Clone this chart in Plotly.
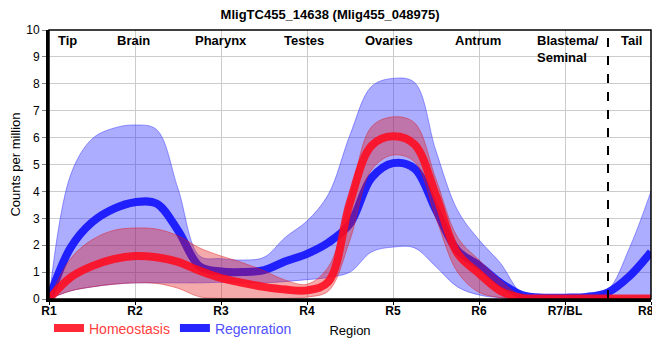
import plotly.graph_objects as go

# ---- data ----
title = "MligTC455_14638 (Mlig455_048975)"
tick_labels = ["R1", "R2", "R3", "R4", "R5", "R6", "R7/BL", "R8/T"]
region_names = ["Tip", "Brain", "Pharynx", "Testes", "Ovaries", "Antrum", "Blastema/<br>Seminal", "Tail"]
region_name_pos = [0.22, 0.98, 2.0, 2.97, 3.95, 4.99, 5.65, 6.77]

pos = [0, 0.25, 0.5, 0.75, 1, 1.25, 1.5, 1.75, 2, 2.25, 2.5, 2.75, 3, 3.25, 3.5, 3.75,
       4, 4.25, 4.5, 4.75, 5, 5.25, 5.5, 5.75, 6, 6.25, 6.5, 6.75, 7]

homeo_mean = [0, 0.8, 1.22, 1.48, 1.6, 1.55, 1.38, 1.05, 0.78, 0.6, 0.45, 0.35, 0.32, 0.65, 3.6,
              5.7, 6.05, 5.75, 3.85, 1.7, 0.95, 0.3, 0.04, 0.02, 0.02, 0.02, 0.02, 0.02, 0.02]
homeo_upper = [0, 1.5, 2.2, 2.55, 2.64, 2.6, 2.35, 1.9, 1.6, 1.35, 1.05, 0.7, 0.55, 1.2, 3.8,
               6.4, 6.77, 6.55, 4.45, 2.3, 1.45, 0.7, 0.1, 0.06, 0.06, 0.06, 0.06, 0.06, 0.06]
homeo_lower = [0, 0.3, 0.45, 0.55, 0.6, 0.58, 0.4, 0.08, 0.02, 0.0, 0.0, 0.02, 0.07, 0.3, 2.2,
               4.8, 5.35, 5.1, 3.0, 1.0, 0.25, 0.05, 0.0, 0, 0, 0, 0, 0, 0]

regen_mean = [0, 1.9, 2.85, 3.35, 3.6, 3.55, 2.55, 1.22, 1.02, 1.0, 1.07, 1.4, 1.68, 2.1, 2.8,
              4.5, 5.05, 4.85, 3.3, 1.8, 1.25, 0.6, 0.15, 0.05, 0.05, 0.08, 0.25, 0.85, 1.75]
regen_upper = [0, 4.6, 5.95, 6.35, 6.47, 6.3, 4.1, 1.6, 1.5, 1.45, 1.55, 2.3, 2.9, 3.9, 6.1,
               7.9, 8.2, 8.05, 5.5, 3.3, 2.2, 1.33, 0.2, 0.05, 0.05, 0.1, 0.35, 1.9, 4.0]
regen_lower = [0, 0.3, 0.45, 0.55, 0.6, 0.6, 0.6, 0.6, 0.62, 0.6, 0.6, 0.65, 0.72, 0.8, 1.0,
               1.75, 1.93, 1.9, 1.2, 0.45, 0.15, 0.05, 0.03, 0.03, 0.03, 0.03, 0.05, 0.08, 0.1]

divider_pos = 6.5

FONT = "Arial, Liberation Sans, sans-serif"

fig = go.Figure()


def add_series(name, mean, upper, lower, band_fill, band_line, line_color, text_color):
    fig.add_trace(go.Scatter(x=pos, y=lower, mode="lines", line=dict(color=band_line, width=1, shape="spline"),
                             showlegend=False, hoverinfo="skip"))
    fig.add_trace(go.Scatter(x=pos, y=upper, mode="lines", line=dict(color=band_line, width=1, shape="spline"),
                             fill="tonexty", fillcolor=band_fill, showlegend=False, hoverinfo="skip"))
    fig.add_trace(go.Scatter(x=pos, y=mean, mode="lines", line=dict(color=line_color, width=8, shape="spline"),
                             name=f'<span style="color:{text_color}">{name}</span>'))


add_series("Regenration", regen_mean, regen_upper, regen_lower,
           "rgba(40,40,255,0.38)", "rgba(40,40,255,0.45)", "rgba(20,20,255,0.92)", "#5050ff")
add_series("Homeostasis", homeo_mean, homeo_upper, homeo_lower,
           "rgba(225,20,20,0.36)", "rgba(225,20,20,0.45)", "rgba(255,10,30,0.88)", "#ff4040")

# region labels
for name, p in zip(region_names, region_name_pos):
    xanchor = "left" if "<br>" in name else "center"
    fig.add_annotation(x=p, y=1, xref="x", yref="paper", text=f"<b>{name}</b>", showarrow=False,
                       xanchor=xanchor, yanchor="top", yshift=-1, align="left",
                       font=dict(family=FONT, size=13, color="black"))

fig.add_shape(type="line", x0=divider_pos, x1=divider_pos, y0=0, y1=1, xref="x", yref="paper",
              line=dict(color="black", width=2, dash="dash"))
fig.add_shape(type="rect", x0=0, x1=1, y0=0, y1=1, xref="paper", yref="paper",
              line=dict(color="black", width=1.5), layer="above")

# the page body adds an 8px margin all round; size the figure so nothing scrolls
fig.update_layout(
    width=652, height=344,
    margin=dict(l=41, r=9, t=22, b=53, autoexpand=False),
    paper_bgcolor="white", plot_bgcolor="white",
    font=dict(family=FONT, size=12, color="black"),
    title=dict(text=f"<b>{title}</b>", x=0.494, xanchor="center",
               y=0.995, yanchor="top", pad=dict(t=0),
               font=dict(family=FONT, size=13, color="black")),
    showlegend=True,
    legend=dict(orientation="h", x=0.0, y=-0.05, xanchor="left", yanchor="top",
                traceorder="reversed", font=dict(family=FONT, size=14), itemwidth=30,
                bgcolor="rgba(0,0,0,0)"),
    xaxis=dict(range=[0, 7], tickvals=list(range(len(tick_labels))), ticktext=tick_labels,
               showgrid=True, gridcolor="#cccccc", gridwidth=1,
               showline=True, linecolor="black", linewidth=3,
               ticks="outside", ticklen=3, tickcolor="black", ticklabelstandoff=-4,
               ticklabeloverflow="allow",
               tickfont=dict(family=FONT, size=12, weight="bold"), automargin=False,
               title=dict(text="Region", standoff=9, font=dict(family=FONT, size=13)),
               zeroline=False),
    yaxis=dict(range=[0, 10], tickvals=list(range(11)), showgrid=True, gridcolor="#cccccc",
               showline=True, linecolor="black", linewidth=3,
               ticks="outside", ticklen=4, tickcolor="#888888",
               tickfont=dict(family=FONT, size=12), automargin=False,
               title=dict(text="Counts per million", standoff=8, font=dict(family=FONT, size=13)),
               zeroline=False),
)

fig.write_html("out.html")
